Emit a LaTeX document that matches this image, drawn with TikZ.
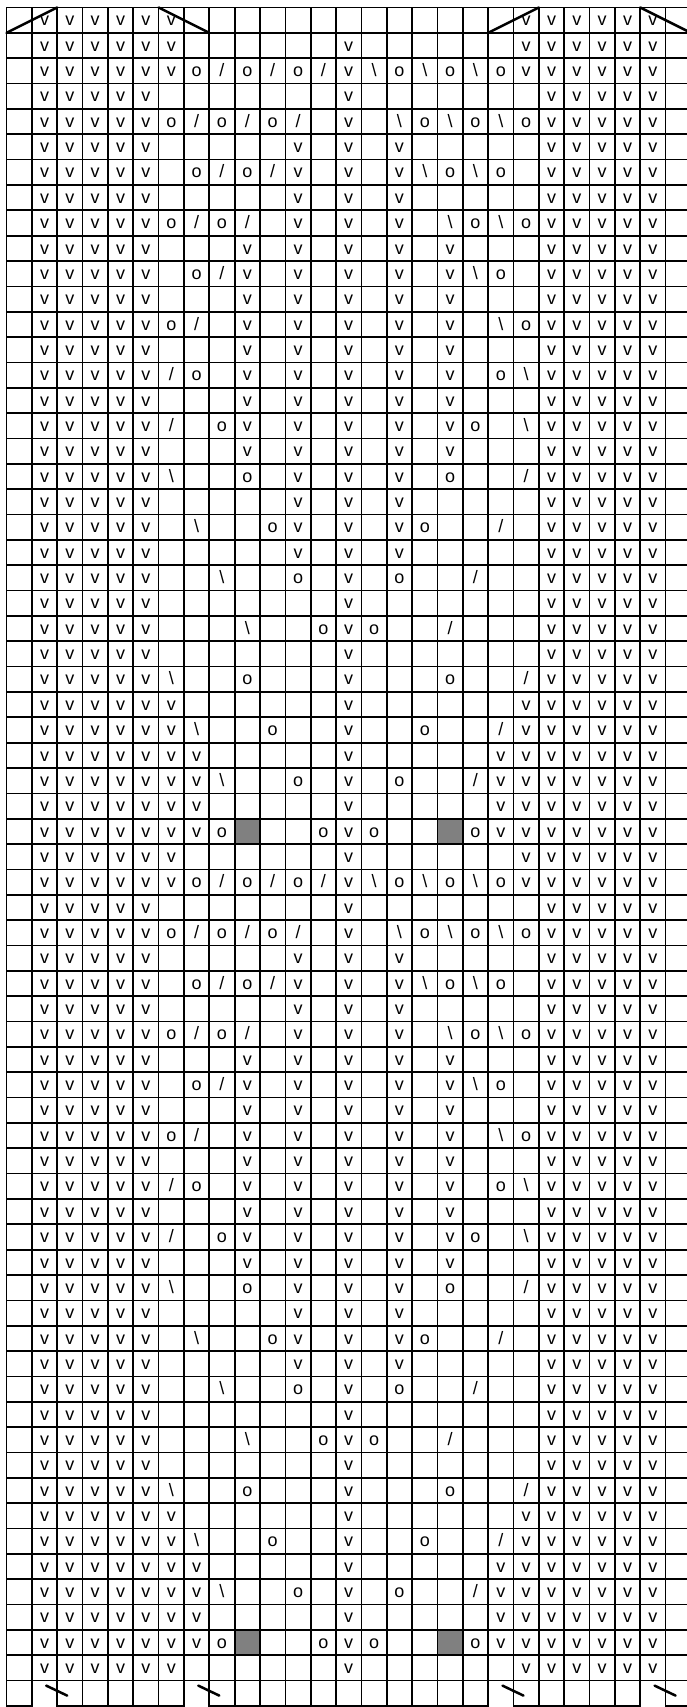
\documentclass[tikz,border=0pt]{standalone}
\usepackage{fontspec}
\setmainfont{Liberation Sans}
\definecolor{cellgray}{RGB}{128,128,128}
\def\gx{6.5}\def\gy{7.5}\def\gw{25.35}
\tikzset{
  glyph/.style={anchor=base,inner sep=0pt,font=\fontsize{18}{18}\selectfont},
  gridline/.style={line width=1.7pt,black,line cap=rect},
  edgeline/.style={line width=2.5pt,black,line cap=round},
}
\newcommand\defrow[2]{\expandafter\def\csname rowdef#1\endcsname{#2}}
% e empty, v, o, s = /, b = \, g = gray cell
\defrow{0}{e,e,e,e,e,e,e,e,e,e,e,e,e,e,e,e,e,e,e,e,e,e,e,e,e,e,e}
\defrow{1}{e,v,v,v,v,v,v,e,e,e,e,e,e,e,e,e,e,e,e,e,v,v,v,v,v,v,e}
\defrow{2}{e,v,v,v,v,v,v,e,e,e,e,e,e,v,e,e,e,e,e,e,v,v,v,v,v,v,e}
\defrow{3}{e,v,v,v,v,v,v,o,s,o,s,o,s,v,b,o,b,o,b,o,v,v,v,v,v,v,e}
\defrow{4}{e,v,v,v,v,v,e,e,e,e,e,e,e,v,e,e,e,e,e,e,e,v,v,v,v,v,e}
\defrow{5}{e,v,v,v,v,v,o,s,o,s,o,s,e,v,e,b,o,b,o,b,o,v,v,v,v,v,e}
\defrow{6}{e,v,v,v,v,v,e,e,e,e,e,v,e,v,e,v,e,e,e,e,e,v,v,v,v,v,e}
\defrow{7}{e,v,v,v,v,v,e,o,s,o,s,v,e,v,e,v,b,o,b,o,e,v,v,v,v,v,e}
\defrow{8}{e,v,v,v,v,v,e,e,e,e,e,v,e,v,e,v,e,e,e,e,e,v,v,v,v,v,e}
\defrow{9}{e,v,v,v,v,v,o,s,o,s,e,v,e,v,e,v,e,b,o,b,o,v,v,v,v,v,e}
\defrow{10}{e,v,v,v,v,v,e,e,e,v,e,v,e,v,e,v,e,v,e,e,e,v,v,v,v,v,e}
\defrow{11}{e,v,v,v,v,v,e,o,s,v,e,v,e,v,e,v,e,v,b,o,e,v,v,v,v,v,e}
\defrow{12}{e,v,v,v,v,v,e,e,e,v,e,v,e,v,e,v,e,v,e,e,e,v,v,v,v,v,e}
\defrow{13}{e,v,v,v,v,v,o,s,e,v,e,v,e,v,e,v,e,v,e,b,o,v,v,v,v,v,e}
\defrow{14}{e,v,v,v,v,v,e,e,e,v,e,v,e,v,e,v,e,v,e,e,e,v,v,v,v,v,e}
\defrow{15}{e,v,v,v,v,v,s,o,e,v,e,v,e,v,e,v,e,v,e,o,b,v,v,v,v,v,e}
\defrow{16}{e,v,v,v,v,v,e,e,e,v,e,v,e,v,e,v,e,v,e,e,e,v,v,v,v,v,e}
\defrow{17}{e,v,v,v,v,v,s,e,o,v,e,v,e,v,e,v,e,v,o,e,b,v,v,v,v,v,e}
\defrow{18}{e,v,v,v,v,v,e,e,e,v,e,v,e,v,e,v,e,v,e,e,e,v,v,v,v,v,e}
\defrow{19}{e,v,v,v,v,v,b,e,e,o,e,v,e,v,e,v,e,o,e,e,s,v,v,v,v,v,e}
\defrow{20}{e,v,v,v,v,v,e,e,e,e,e,v,e,v,e,v,e,e,e,e,e,v,v,v,v,v,e}
\defrow{21}{e,v,v,v,v,v,e,b,e,e,o,v,e,v,e,v,o,e,e,s,e,v,v,v,v,v,e}
\defrow{22}{e,v,v,v,v,v,e,e,e,e,e,v,e,v,e,v,e,e,e,e,e,v,v,v,v,v,e}
\defrow{23}{e,v,v,v,v,v,e,e,b,e,e,o,e,v,e,o,e,e,s,e,e,v,v,v,v,v,e}
\defrow{24}{e,v,v,v,v,v,e,e,e,e,e,e,e,v,e,e,e,e,e,e,e,v,v,v,v,v,e}
\defrow{25}{e,v,v,v,v,v,e,e,e,b,e,e,o,v,o,e,e,s,e,e,e,v,v,v,v,v,e}
\defrow{26}{e,v,v,v,v,v,e,e,e,e,e,e,e,v,e,e,e,e,e,e,e,v,v,v,v,v,e}
\defrow{27}{e,v,v,v,v,v,b,e,e,o,e,e,e,v,e,e,e,o,e,e,s,v,v,v,v,v,e}
\defrow{28}{e,v,v,v,v,v,v,e,e,e,e,e,e,v,e,e,e,e,e,e,v,v,v,v,v,v,e}
\defrow{29}{e,v,v,v,v,v,v,b,e,e,o,e,e,v,e,e,o,e,e,s,v,v,v,v,v,v,e}
\defrow{30}{e,v,v,v,v,v,v,v,e,e,e,e,e,v,e,e,e,e,e,v,v,v,v,v,v,v,e}
\defrow{31}{e,v,v,v,v,v,v,v,b,e,e,o,e,v,e,o,e,e,s,v,v,v,v,v,v,v,e}
\defrow{32}{e,v,v,v,v,v,v,v,e,e,e,e,e,v,e,e,e,e,e,v,v,v,v,v,v,v,e}
\defrow{33}{e,v,v,v,v,v,v,v,o,g,e,e,o,v,o,e,e,g,o,v,v,v,v,v,v,v,e}
\newcommand\syme{}
\newcommand\glyphat[1]{\node[glyph] (n\r-\cc) at ({\gx+(\cc-0.5)*\gw},{\gy+\r*\gw-7}) {#1};}
\newcommand\symv{\glyphat{v}}
\newcommand\symo{\glyphat{o}}
\newcommand\syms{\glyphat{/}}
\newcommand\symb{\glyphat{\textbackslash}}
\newcommand\symg{\fill[cellgray] ({\gx+(\cc-1)*\gw},{\gy+(\r-1)*\gw}) rectangle ({\gx+\cc*\gw},{\gy+\r*\gw});}
\begin{document}
\begin{tikzpicture}[x=1pt,y=-1pt]
\useasboundingbox (0,0) rectangle (687,1707);
% cell contents
\foreach \r in {1,...,67}{
  \pgfmathtruncatemacro\p{\r<34 ? \r : (\r<66 ? \r-32 : (\r==66 ? 2 : 0))}
  \expandafter\let\expandafter\currow\csname rowdef\p\endcsname
  \foreach \s [count=\cc] in \currow {\csname sym\s\endcsname}
}
% grid
\foreach \k in {0,...,27}
  \draw[gridline] ({\gx+\k*\gw},\gy) -- ({\gx+\k*\gw},{\gy+67*\gw});
\foreach \j in {0,...,66}
  \draw[gridline] (\gx,{\gy+\j*\gw}) -- ({\gx+27*\gw},{\gy+\j*\gw});
\foreach \a/\b in {0/1,2/7,8/19,20/25,26/27}
  \draw[gridline] ({\gx+\a*\gw},{\gy+67*\gw}) -- ({\gx+\b*\gw},{\gy+67*\gw});
% top row diagonals
\draw[edgeline] (\gx,{\gy+\gw}) -- ({\gx+2*\gw},\gy);
\draw[edgeline] ({\gx+6*\gw},\gy) -- ({\gx+8*\gw},{\gy+\gw});
\draw[edgeline] ({\gx+19*\gw},{\gy+\gw}) -- ({\gx+21*\gw},\gy);
\draw[edgeline] ({\gx+25*\gw},\gy) -- ({\gx+27*\gw},{\gy+\gw});
% bottom row marks
\foreach \k in {2,8,20,26}
  \draw[edgeline] ({\gx+\k*\gw-11},{\gy+66*\gw+5}) -- ({\gx+\k*\gw+10},{\gy+66*\gw+15});
\end{tikzpicture}
\end{document}
